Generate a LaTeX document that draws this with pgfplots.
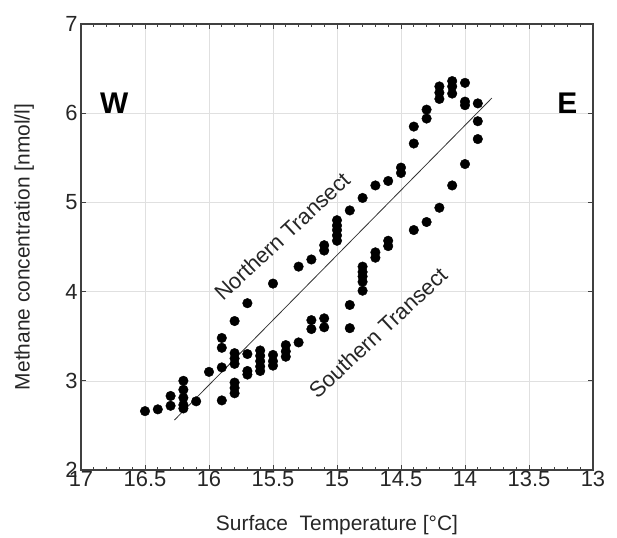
\documentclass[border=0pt]{standalone}
\usepackage{fontspec}
\setmainfont{Liberation Sans}
\usepackage{pgfplots}
\pgfplotsset{compat=1.18}
\usepackage{pgfplotstable}
\pgfplotstableread{
x y
16.5 2.66
16.4 2.68
16.3 2.83
16.3 2.72
16.2 3.00
16.2 2.90
16.2 2.81
16.2 2.73
16.2 2.69
16.1 2.77
16.0 3.10
15.9 3.48
15.9 3.37
15.9 3.15
15.9 2.78
15.8 3.67
15.8 3.31
15.8 3.25
15.8 3.19
15.8 2.98
15.8 2.92
15.8 2.86
15.7 3.87
15.7 3.30
15.7 3.11
15.7 3.07
15.6 3.34
15.6 3.28
15.6 3.22
15.6 3.16
15.6 3.11
15.5 4.09
15.5 3.29
15.5 3.22
15.5 3.17
15.4 3.40
15.4 3.33
15.4 3.27
15.3 3.43
15.3 4.28
15.2 4.36
15.2 3.68
15.2 3.58
15.1 4.52
15.1 4.46
15.1 3.70
15.1 3.60
15.0 4.80
15.0 4.74
15.0 4.69
15.0 4.63
15.0 4.57
14.9 4.91
14.9 3.85
14.9 3.59
14.8 5.05
14.8 4.28
14.8 4.22
14.8 4.17
14.8 4.11
14.8 4.01
14.7 5.19
14.7 4.44
14.7 4.38
14.6 5.24
14.6 4.57
14.6 4.51
14.5 5.39
14.5 5.33
14.4 5.85
14.4 5.66
14.4 4.69
14.3 6.04
14.3 5.94
14.3 4.78
14.2 6.30
14.2 6.23
14.2 6.16
14.2 4.94
14.1 6.36
14.1 6.30
14.1 6.22
14.1 5.19
14.0 6.34
14.0 6.13
14.0 6.09
14.0 5.43
13.9 6.11
13.9 5.91
13.9 5.71
}\pts
\begin{document}
\begin{tikzpicture}
\begin{axis}[
  at={(0,0)}, anchor=south west,
  scale only axis, width=512bp, height=446bp,
  x dir=reverse, xmin=13, xmax=17, ymin=2, ymax=7,
  xtick={13,13.5,14,14.5,15,15.5,16,16.5,17},
  ytick={2,3,4,5,6,7},
  minor x tick num=4,
  grid=major, major grid style={black!12, line width=0.6pt},
  axis line style={black!75, line width=1.4pt},
  tick style={black!75, line width=0.8pt},
  major tick length=5bp, minor tick length=3bp,
  tick align=inside,
  /pgf/number format/assume math mode=true,
  ticklabel style={font=\fontsize{22}{26}\selectfont, text=black!85},
  xticklabel style={inner sep=1bp},
  xlabel={Surface\ \ Temperature [°C]},
  ylabel={Methane concentration [nmol/l]},
  label style={font=\fontsize{21}{25}\selectfont, text=black!85},
  xlabel style={at={(axis description cs:0.5,0)}, anchor=base, yshift=-60bp},
  ylabel style={at={(axis description cs:-0.111,0.5)}, anchor=center},
]
\addplot[black!80, line width=0.8pt] coordinates {(16.27,2.56) (13.79,6.17)};
\addplot[only marks, mark=*, mark size=4.8bp, black] table[x=x,y=y] {\pts};
\node[anchor=base, font=\bfseries\fontsize{30}{36}\selectfont] at (axis cs:16.74,6.0) {W};
\node[anchor=base, font=\bfseries\fontsize{30}{36}\selectfont] at (axis cs:13.2,6.0) {E};
\node[rotate=43, font=\fontsize{22}{26}\selectfont, text=black!85] at (axis cs:15.43,4.62) {Northern Transect};
\node[rotate=43, font=\fontsize{22}{26}\selectfont, text=black!85] at (axis cs:14.68,3.54) {Southern Transect};
\end{axis}
\path (-81bp,-68bp) rectangle (536bp,470bp);
\end{tikzpicture}
\end{document}
